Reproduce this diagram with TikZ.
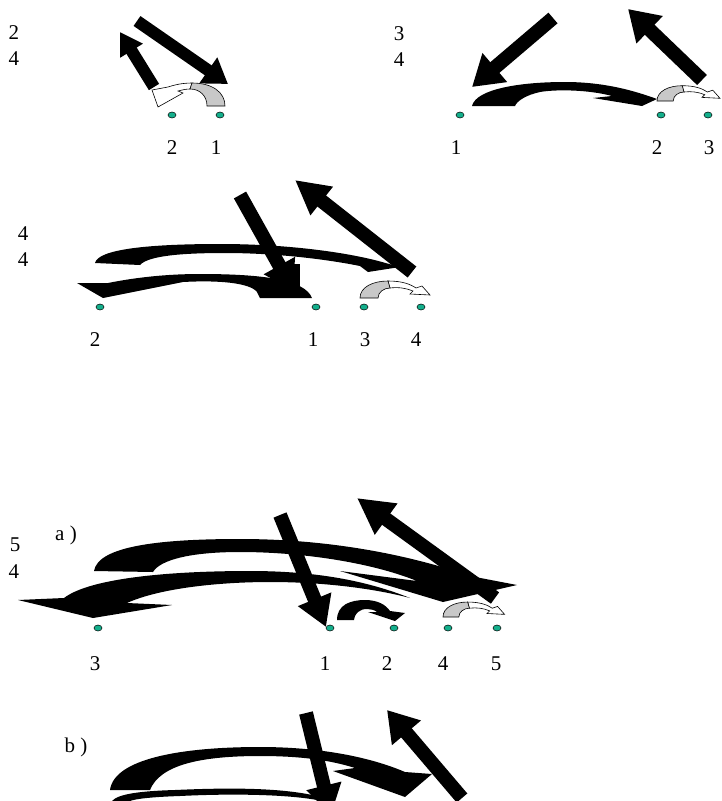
\documentclass[tikz,border=0pt]{standalone}
\usepackage{fontspec}
\setmainfont{Liberation Serif}
\usetikzlibrary{arrows.meta}
\definecolor{dotc}{RGB}{20,175,140}
\definecolor{arcgray}{RGB}{200,200,200}
\tikzset{
  blk/.style={fill=black, draw=none},
  straw/.style={line width=#1, line cap=butt, draw=black},
  dotn/.style={draw=black, fill=dotc, line width=0.5pt},
  lbl/.style={font=\fontsize{21}{25}\selectfont, inner sep=0pt},
  grayp/.style={fill=arcgray, draw=black, line width=0.6pt},
  whitep/.style={fill=white, draw=black, line width=0.6pt}
}
\newcommand{\grayarc}[3]{%
  \begin{scope}[shift={(#1,#2)}, scale=#3]
    \draw[whitep] (28,-17) .. controls (42,-17) and (50,-14) .. (56,-10) -- (62,-12) -- (70,-3) -- (50,-4) -- (53,-7) .. controls (46,-10) and (38,-11) .. (30,-10) -- cycle;
    \draw[grayp] (0,0) .. controls (0,-11) and (13,-17) .. (28,-17) -- (30,-10) .. controls (24,-10) and (18,-6) .. (18,0) -- cycle;
  \end{scope}}
\newcommand{\tealdot}[2]{\draw[dotn] (#1,#2) ellipse (4 and 3);}
\begin{document}
\begin{tikzpicture}[x=1pt,y=-1pt]
\useasboundingbox (0,0) rectangle (721,801);
\clip (0,0) rectangle (721,801);

% ---------------- panel 1 ----------------
\draw[straw=12pt, -{Triangle[length=24pt,width=30pt]}] (137,21) -- (228,84);
\draw[straw=12pt, -{Triangle[length=22pt,width=25pt]}] (154,87) -- (120,32);
\draw[whitep] (192,83) .. controls (182,83) and (174,85) .. (168,87) -- (152,90) -- (158,107) -- (183,93) -- (178,91) .. controls (182,90) and (186,89) .. (190,89) -- cycle;
\draw[grayp] (225,106) .. controls (225,92) and (212,83) .. (192,83) -- (190,89) .. controls (200,89) and (207,96) .. (207,106) -- cycle;

% ---------------- panel 2 ----------------
\draw[straw=14pt, -{Triangle[length=30pt,width=36pt]}] (553,18) -- (472,87);
\draw[straw=14pt, -{Triangle[length=30pt,width=36pt]}] (702,80) -- (628,9);
\fill[blk] (472,106) .. controls (476,89) and (520,82) .. (565,82) .. controls (605,82) and (635,91) .. (657,99) -- (642,106) -- (593,98) -- (612,96) .. controls (590,90) and (558,89) .. (540,92) .. controls (526,95) and (517,101) .. (515,106) -- cycle;
\grayarc{657}{101}{0.9}

% ---------------- panel 3 ----------------
\fill[blk] (95,263) .. controls (98,249) and (150,244) .. (220,244) .. controls (290,244) and (350,253) .. (382,262) -- (400,267) -- (368,272) -- (360,266) .. controls (320,258) and (270,253) .. (225,253) .. controls (180,253) and (148,256) .. (140,265) -- cycle;
\fill[blk] (312,298) .. controls (305,280) and (265,274) .. (200,274) .. controls (160,274) and (128,279) .. (108,283) -- (77,283) -- (103,298) -- (183,282) .. controls (220,280) and (250,283) .. (257,292) -- (260,298) -- cycle;
\fill[blk] (290,264) rectangle (300,298);
\draw[straw=14pt, -{Triangle[length=28pt,width=34pt]}] (240,195) -- (293,290);
\draw[straw=14pt, -{Triangle[length=34pt,width=34pt]}] (412,272) -- (295,180);
\grayarc{360}{298}{1}

% ---------------- panel 4 (a) ----------------
\fill[blk] (94,571) .. controls (98,546) and (160,539) .. (240,539) .. controls (330,539) and (410,555) .. (470,576) -- (517,585) -- (443,602) -- (340,571) -- (417,581) .. controls (370,562) and (300,552) .. (240,552) .. controls (190,552) and (160,560) .. (153,572) -- cycle;
\fill[blk] (410,598) .. controls (370,582) and (320,571) .. (250,571) .. controls (170,571) and (90,578) .. (64,598) -- (18,600) -- (93,618) -- (172,605) -- (127,603) .. controls (160,588) and (220,582) .. (270,582) .. controls (330,582) and (380,590) .. (410,598) -- cycle;
\fill[blk] (337,620) .. controls (337,605) and (350,600) .. (365,600) .. controls (378,600) and (386,605) .. (390,611) -- (405,613) -- (395,621) -- (368,612) -- (377,612) .. controls (372,608) and (362,608) .. (358,612) .. controls (355,615) and (354,618) .. (354,620) -- cycle;
\draw[straw=14pt, -{Triangle[length=30pt,width=34pt]}] (280,515) -- (326,627);
\draw[straw=14pt, -{Triangle[length=36pt,width=36pt]}] (495,598) -- (357,498);
\grayarc{443}{617}{0.88}

% ---------------- panel 5 (b) ----------------
\fill[blk] (110,790) .. controls (114,759) and (180,747) .. (260,747) .. controls (320,747) and (370,757) .. (405,772) -- (432,774) -- (405,797) -- (333,771) -- (355,768) .. controls (330,760) and (300,756) .. (260,756) .. controls (200,756) and (160,765) .. (150,790) -- cycle;
\fill[blk] (112,801) .. controls (118,794) and (140,791) .. (175,790) .. controls (240,787) and (300,788) .. (333,801) -- (322,801) .. controls (295,795) and (240,793) .. (180,796) .. controls (150,797) and (135,799) .. (130,801) -- cycle;
\draw[straw=14pt, -{Triangle[length=30pt,width=34pt]}] (306,713) -- (331,815);
\draw[straw=14pt, -{Triangle[length=30pt,width=36pt]}] (462,798) -- (387,710);

% ---------------- dots ----------------
\tealdot{172}{115}\tealdot{220}{115}
\tealdot{460}{115}\tealdot{661}{115}\tealdot{708}{115}
\tealdot{100}{307}\tealdot{316}{307}\tealdot{364}{307}\tealdot{421}{307}
\tealdot{98}{628}\tealdot{330}{628}\tealdot{394}{628}\tealdot{448}{628}\tealdot{497}{628}

% ---------------- labels ----------------
\node[lbl] (p1a) at (14,33) {2};
\node[lbl] (p1b) at (14,59) {4};
\node[lbl] (p1c) at (172,148) {2};
\node[lbl] (p1d) at (216,148) {1};
\node[lbl] (p2a) at (399,34) {3};
\node[lbl] (p2b) at (399,60) {4};
\node[lbl] (p2c) at (456,148) {1};
\node[lbl] (p2d) at (657,148) {2};
\node[lbl] (p2e) at (709,148) {3};
\node[lbl] (p3a) at (23,234) {4};
\node[lbl] (p3b) at (23,260) {4};
\node[lbl] (p3c) at (95,340) {2};
\node[lbl] (p3d) at (313,340) {1};
\node[lbl] (p3e) at (365,340) {3};
\node[lbl] (p3f) at (416,340) {4};
\node[lbl] (p4t) at (66,535) {a )};
\node[lbl] (p4a) at (15,545) {5};
\node[lbl] (p4b) at (14,572) {4};
\node[lbl] (p4c) at (95,664) {3};
\node[lbl] (p4d) at (325,664) {1};
\node[lbl] (p4e) at (387,664) {2};
\node[lbl] (p4f) at (443,664) {4};
\node[lbl] (p4g) at (496,664) {5};
\node[lbl] (p5t) at (76,747) {b )};
\end{tikzpicture}
\end{document}
